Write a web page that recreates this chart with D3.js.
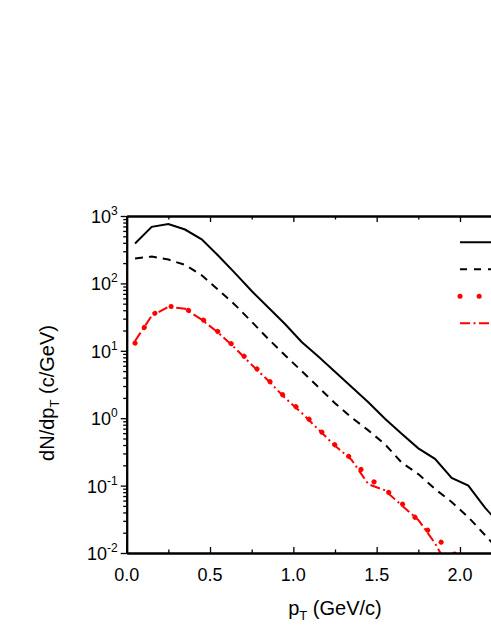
<!DOCTYPE html>
<html>
<head>
<meta charset="UTF-8">
<title>dN/dpT spectra</title>
<script src="https://d3js.org/d3.v7.min.js"></script>
<style>
  body {margin:0; background:#fff;}
  svg {display:block;}
  text {font-family: Arial, "Liberation Sans", sans-serif; fill:#000;}
  .axis path, .axis line {stroke:#000;}
  .axis path {stroke-width:2;}
  .axis line {stroke-width:1.3;}
</style>
</head>
<body>
<div id="chart"></div>
<script>
// pT bin centres (GeV/c)
var pt = [0.05,0.15,0.25,0.35,0.45,0.55,0.65,0.75,0.85,0.95,1.05,1.15,1.25,1.35,1.45,1.55,1.65,1.75,1.85,1.95,2.05,2.15,2.25];

var solid   = [390,690,760,630,450,257,142,77,44,25,13.5,8.2,4.9,2.9,1.72,0.98,0.59,0.357,0.25,0.13,0.10,0.047,0.025];
var dashed  = [235,250,226,188,132,80,48,27,15,8.6,5.0,2.9,1.67,1.02,0.66,0.41,0.22,0.148,0.089,0.057,0.034,0.0185,0.010];
var redDot  = [13,34,46,43,30,19,11.3,6.4,3.7,2.05,1.25,0.70,0.40,0.25,0.13,0.088,0.055,0.03,0.017,0.011,0.005];
var redDash = [14,33,45,42,29,18.5,11,6.2,3.6,2.0,1.2,0.68,0.39,0.24,0.105,0.085,0.051,0.031,0.014,0.005];

var xMajor = [0,0.5,1.0,1.5,2.0,2.5];
var xLabels = [0,0.5,1.0,1.5,2.0];
var xMinor = [0.25,0.75,1.25,1.75,2.25];
var yMajor = [1e-2,1e-1,1e0,1e1,1e2,1e3];
var yExp   = ["-2","-1","0","1","2","3"];

var W = 491, H = 635;
var margin = {left:126.7, top:216};
var width = 543.3 - margin.left, height = 553 - margin.top;

var svg = d3.select("#chart").append("svg")
    .attr("width", W).attr("height", H);

var x = d3.scaleLinear().domain([0,2.5]).range([0,width]);
var y = d3.scaleLog().domain([1e-2,1e3]).range([height,0]);

var g = svg.append("g").attr("transform","translate(" + margin.left + "," + margin.top + ")");

g.append("clipPath").attr("id","clip")
  .append("rect").attr("width",width).attr("height",height);

// minor log ticks
var yMinor = [];
for (var e = -2; e < 3; e++) for (var k = 2; k < 10; k++) yMinor.push(k * Math.pow(10,e));

// curves
var line = function(vals) {
  return d3.line()
    .x(function(d,i){ return x(pt[i]); })
    .y(function(d){ return y(d); })(vals);
};

var plot = g.append("g").attr("clip-path","url(#clip)");
plot.append("path").attr("d", line(redDash))
  .attr("fill","none").attr("stroke","#ff0000").attr("stroke-width",2)
  .attr("stroke-dasharray","10,3.5,2,3.5");
plot.append("path").attr("d", line(redDot))
  .attr("fill","none").attr("stroke","#ff0000").attr("stroke-width",5)
  .attr("stroke-linecap","round").attr("stroke-dasharray","0.1,18");
plot.append("path").attr("d", line(dashed))
  .attr("fill","none").attr("stroke","#000").attr("stroke-width",2)
  .attr("stroke-dasharray","8,6");
plot.append("path").attr("d", line(solid))
  .attr("fill","none").attr("stroke","#000").attr("stroke-width",2);

// legend lines (labels fall outside the visible frame)
var legend = [
  {stroke:"#000", w:2, dash:null, cap:"butt"},
  {stroke:"#000", w:2, dash:"7,7", cap:"butt"},
  {stroke:"#ff0000", w:5, dash:"0.1,19", cap:"round"},
  {stroke:"#ff0000", w:2, dash:"10,3.5,2,3.5", cap:"butt"}
];
legend.forEach(function(l,i){
  g.append("line")
    .attr("x1", 460 - margin.left).attr("x2", 510 - margin.left)
    .attr("y1", 242.3 - margin.top + i*27).attr("y2", 242.3 - margin.top + i*27)
    .attr("stroke", l.stroke).attr("stroke-width", l.w)
    .attr("stroke-dasharray", l.dash).attr("stroke-linecap", l.cap);
});

// x axes (ticks inward)
g.append("g").attr("class","axis").attr("transform","translate(0," + height + ")")
  .call(d3.axisBottom(x).tickValues(xMajor).tickSize(-6).tickSizeOuter(0).tickFormat(""));
g.append("g").attr("class","axis").attr("transform","translate(0," + height + ")")
  .call(d3.axisBottom(x).tickValues(xMinor).tickSize(-3.5).tickSizeOuter(0).tickFormat(""));
g.append("g").attr("class","axis")
  .call(d3.axisTop(x).tickValues(xMajor).tickSize(-6).tickSizeOuter(0).tickFormat(""));
g.append("g").attr("class","axis")
  .call(d3.axisTop(x).tickValues(xMinor).tickSize(-3.5).tickSizeOuter(0).tickFormat(""));

g.selectAll(".xlab").data(xLabels).enter().append("text")
  .attr("x", function(d){ return x(d); })
  .attr("y", height + 28)
  .attr("text-anchor","middle")
  .style("font-size","18px")
  .text(function(d){ return d.toFixed(1); });

// y axis (ticks outward)
g.append("g").attr("class","axis")
  .call(d3.axisLeft(y).tickValues(yMajor).tickSize(6).tickSizeOuter(0).tickFormat(""));
g.append("g").attr("class","axis")
  .call(d3.axisLeft(y).tickValues(yMinor).tickSize(3.5).tickSizeOuter(0).tickFormat(""));

var ylab = g.selectAll(".ylab").data(yMajor).enter().append("text")
  .attr("x", -9)
  .attr("y", function(d){ return y(d) + 7; })
  .attr("text-anchor","end")
  .style("font-size","18px");
ylab.append("tspan").text("10");
ylab.append("tspan").attr("dy",-8).style("font-size","12px")
  .text(function(d,i){ return yExp[i]; });

// axis titles
var xt = svg.append("text")
  .attr("x", 335).attr("y", 615)
  .attr("text-anchor","middle").style("font-size","20px");
xt.append("tspan").text("p");
xt.append("tspan").attr("dy",5).style("font-size","13px").text("T");
xt.append("tspan").attr("dy",-5).text(" (GeV/c)");

var yt = svg.append("text")
  .attr("transform","translate(54,393) rotate(-90)")
  .attr("text-anchor","middle").style("font-size","20px");
yt.append("tspan").text("dN/dp");
yt.append("tspan").attr("dy",5).style("font-size","13px").text("T");
yt.append("tspan").attr("dy",-5).text(" (c/GeV)");
</script>
</body>
</html>
